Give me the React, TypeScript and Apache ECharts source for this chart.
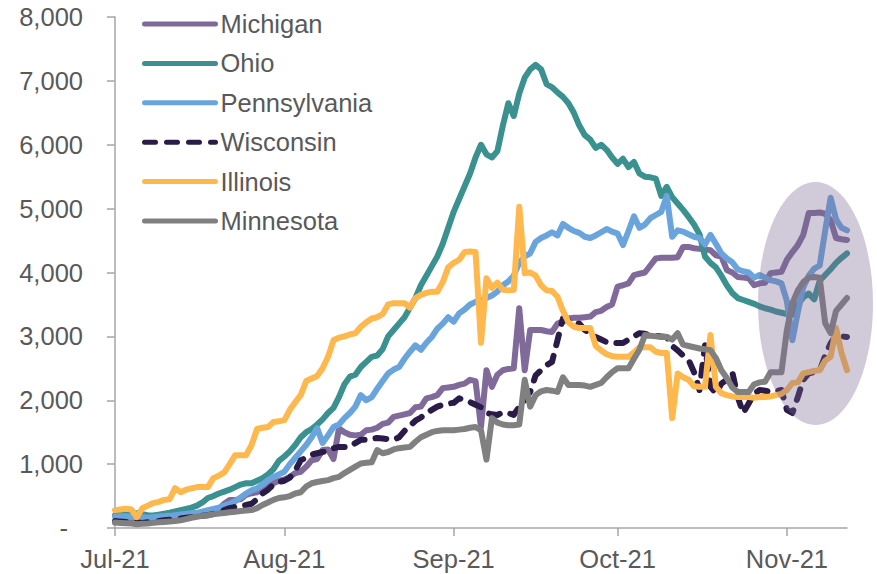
import React, { useEffect, useRef } from "react";
import * as echarts from "echarts";

// ---- Data (daily, 1 Jul 2021 – 12 Nov 2021) ----
const startDate = new Date(2021, 6, 1);
const dayCount = 135;
const dates: string[] = [];
for (let i = 0; i < dayCount; i++) {
  const d = new Date(startDate.getFullYear(), startDate.getMonth(), startDate.getDate() + i);
  dates.push(`${d.getFullYear()}-${String(d.getMonth() + 1).padStart(2, "0")}-${String(d.getDate()).padStart(2, "0")}`);
}
const monthNames = ["Jan", "Feb", "Mar", "Apr", "May", "Jun", "Jul", "Aug", "Sep", "Oct", "Nov", "Dec"];

const seriesNames = ["Michigan", "Ohio", "Pennsylvania", "Wisconsin", "Illinois", "Minnesota"];

const michigan = [
  100, 100, 95, 90, 85, 90, 100, 110, 120, 130, 140, 150, 160, 170, 180, 190, 210, 230, 260, 300,
  380, 440, 440, 450, 520, 545, 560, 620, 640, 700, 740, 760, 800, 860, 880, 960, 1060, 1080, 1220, 1230,
  1080, 1560, 1500, 1460, 1450, 1460, 1530, 1540, 1570, 1630, 1650, 1740, 1760, 1780, 1800, 1890, 1900, 2030, 2050, 2080,
  2190, 2200, 2210, 2240, 2260, 2320, 2300, 1580, 2470, 2210, 2400, 2470, 2490, 2500, 3440, 2470, 3100, 3100, 3100, 3080,
  3070, 3200, 3230, 3280, 3290, 3290, 3300, 3310, 3380, 3400, 3460, 3500, 3780, 3800, 3830, 3960, 3980, 4000, 4110, 4220,
  4230, 4230, 4230, 4240, 4400, 4400, 4380, 4370, 4360, 4350, 4270, 4250, 4040, 4000, 3930, 3920, 3910, 3800, 3830, 3840,
  3990, 4000, 4010, 4200, 4320, 4430, 4590, 4930, 4930, 4940, 4920, 4820, 4540, 4520, 4510,
];

const ohio = [
  200, 210, 220, 225, 230, 215, 200, 195, 210, 225, 240, 260, 280, 300, 320, 350, 400, 470, 500, 540,
  570, 600, 640, 680, 700, 700, 740, 780, 840, 920, 1050, 1120, 1200, 1300, 1420, 1500, 1550, 1620, 1700, 1800,
  1880, 2050, 2250, 2370, 2400, 2520, 2600, 2680, 2700, 2800, 3000, 3100, 3200, 3300, 3450, 3600, 3800, 3950, 4100, 4250,
  4450, 4700, 4950, 5150, 5350, 5550, 5800, 6000, 5850, 5800, 5900, 6300, 6650, 6450, 6800, 7050, 7180, 7250, 7180, 6950,
  6900, 6820, 6750, 6650, 6500, 6300, 6150, 6080, 5950, 6000, 5920, 5800, 5700, 5780, 5650, 5730, 5550, 5500, 5490, 5470,
  5200, 5340, 5180, 5080, 4980, 4870, 4750, 4600, 4250, 4150, 4080, 3950, 3800, 3680, 3600, 3570, 3540, 3510, 3470, 3440,
  3420, 3390, 3370, 3350, 3340, 3500, 3610, 3670, 3580, 3870, 3960, 4050, 4150, 4230, 4300,
];

const pennsylvania = [
  180, 185, 185, 180, 175, 170, 160, 170, 180, 185, 190, 200, 210, 220, 230, 240, 255, 280, 300, 320,
  350, 380, 420, 480, 540, 590, 620, 680, 750, 800, 840, 880, 1000, 1100, 1200, 1300, 1420, 1565, 1330, 1450,
  1580, 1620, 1720, 1800, 1900, 2080, 2000, 2050, 2180, 2300, 2420, 2480, 2520, 2650, 2760, 2860, 2790, 2900, 2990, 3120,
  3200, 3300, 3230, 3360, 3420, 3500, 3540, 3570, 3600, 3640, 3700, 3800, 3860, 3950, 4150, 4250, 4300, 4480, 4540, 4580,
  4630, 4580, 4760, 4700, 4650, 4620, 4560, 4540, 4580, 4630, 4680, 4640, 4610, 4430, 4650, 4880, 4700, 4750, 4850, 4900,
  4950, 5200, 4560, 4660, 4640, 4600, 4560, 4540, 4440, 4590, 4450, 4300, 4220, 4160, 4050, 4020, 4000, 3920, 3960, 3920,
  3880, 3860, 3830, 3550, 2940, 3380, 3770, 3950, 4060, 4110, 4650, 5170, 4830, 4700, 4660,
];

const wisconsin = [
  110, 100, 95, 90, 85, 80, 90, 100, 110, 120, 130, 140, 150, 160, 170, 180, 190, 200, 220, 250,
  280, 310, 330, 350, 360, 380, 450, 540, 600, 680, 720, 740, 790, 900, 1060, 1100, 1150, 1170, 1190, 1200,
  1250, 1270, 1270, 1270, 1330, 1380, 1380, 1400, 1410, 1400, 1390, 1380, 1420, 1520, 1600, 1680, 1730, 1800, 1850, 1900,
  1930, 1950, 1960, 2030, 2000, 1970, 1930, 1890, 1800, 1780, 1770, 1810, 1800, 1770, 1900, 2000, 2130, 2390, 2470, 2550,
  2600, 2940, 3280, 3250, 3220, 3200, 3100, 3050, 2990, 2950, 2910, 2900, 2895, 2895, 2950, 3000, 3050, 3040, 3020, 3010,
  3000, 2990, 2850, 2780, 2700, 2630, 2440, 2160, 2860, 2210, 2110, 2260, 2320, 2440, 2050, 1800, 1950, 2100, 2160, 2150,
  2130, 2140, 2160, 1850, 1800, 2050, 2320, 2420, 2440, 2460, 2700, 2890, 3020, 3000, 2990,
];

const illinois = [
  280, 290, 300, 290, 170, 310, 350, 390, 410, 440, 450, 625, 560, 600, 620, 640, 640, 640, 780, 820,
  870, 1000, 1140, 1140, 1140, 1300, 1550, 1570, 1580, 1660, 1670, 1690, 1850, 1970, 2080, 2300, 2340, 2380, 2500, 2680,
  2940, 2980, 3000, 3030, 3050, 3150, 3220, 3280, 3300, 3350, 3500, 3520, 3520, 3520, 3450, 3600, 3650, 3680, 3700, 3700,
  3850, 4080, 4150, 4200, 4320, 4330, 4320, 2900, 3910, 3760, 3840, 3730, 3720, 3730, 5030, 3990, 4000, 3950, 3800, 3720,
  3710, 3620, 3400, 3220, 3150, 3130, 3130, 3130, 2850, 2780, 2720, 2690, 2680, 2680, 2680, 2750, 2830, 2830, 2830, 2760,
  2740, 2740, 1720, 2420, 2360, 2320, 2220, 2210, 2210, 3020, 2210, 2110, 2080, 2060, 2050, 2050, 2050, 2040, 2050, 2050,
  2060, 2080, 2100, 2160, 2270, 2280, 2420, 2440, 2460, 2470, 2620, 2680, 3130, 2740, 2470,
];

const minnesota = [
  85, 80, 75, 70, 60, 65, 70, 80, 90, 95, 100, 110, 120, 140, 160, 175, 190, 200, 215, 225,
  235, 245, 255, 265, 275, 280, 310, 360, 400, 440, 470, 480, 500, 540, 560, 650, 700, 720, 735, 750,
  780, 800, 860, 910, 960, 1010, 1020, 1030, 1220, 1170, 1190, 1230, 1250, 1260, 1270, 1350, 1420, 1460, 1500, 1520,
  1530, 1530, 1530, 1540, 1550, 1570, 1580, 1530, 1070, 1720, 1650, 1620, 1610, 1610, 1620, 2320, 1900, 2080, 2140, 2160,
  2150, 2130, 2360, 2240, 2240, 2240, 2230, 2210, 2240, 2270, 2360, 2440, 2500, 2500, 2500, 2650, 2790, 3020, 3010, 3000,
  2990, 2990, 2950, 3050, 2870, 2850, 2830, 2810, 2800, 2785, 2660, 2470, 2350, 2200, 2130, 2130, 2130, 2250, 2280, 2290,
  2440, 2440, 2440, 3100, 3520, 3720, 3850, 3920, 3930, 3920, 3210, 3050, 3400, 3500, 3600,
];

const seriesValues = [michigan, ohio, pennsylvania, wisconsin, illinois, minnesota];
const seriesColors = ["#7F6A9A", "#3A9190", "#6AA4DC", "#2A1B48", "#FFB84D", "#808080"];

const yMin = 0;
const yMax = 8000;
const yInterval = 1000;

const FONT = "'Liberation Sans', Arial, sans-serif";
const TEXT_COLOR = "#595959";
const AXIS_COLOR = "#A6A6A6";
const LINE_W = 6;
const LEGEND_LINE_W = 5;

function isMonthStart(index: number): boolean {
  return dates[index].endsWith("-01");
}

function monthLabel(value: string): string {
  const [y, m] = value.split("-");
  return `${monthNames[Number(m) - 1]}-${y.slice(2)}`;
}

export default function App() {
  const ref = useRef<HTMLDivElement>(null);

  useEffect(() => {
    if (!ref.current) return;
    const chart = echarts.init(ref.current, undefined, { renderer: "svg" });

    const series = seriesNames.map((name, k) => {
      const lineStyle: any = { color: seriesColors[k], width: LINE_W, cap: "round", join: "round" };
      if (name === "Wisconsin") lineStyle.type = [11, 11];
      return {
        name,
        type: "line",
        data: seriesValues[k],
        symbol: "none",
        lineStyle,
        itemStyle: { color: seriesColors[k] },
      };
    });

    chart.setOption({
      animation: false,
      textStyle: { fontFamily: FONT },
      grid: { left: 115, right: 30, top: 17, bottom: 46, containLabel: false },
      legend: {
        orient: "vertical",
        left: 142,
        top: 11,
        padding: 0,
        itemWidth: 71,
        itemHeight: 14,
        itemGap: 13.4,
        data: seriesNames,
        itemStyle: { opacity: 0 },
        lineStyle: { width: LEGEND_LINE_W, cap: "round" },
        textStyle: { fontSize: 25.5, color: TEXT_COLOR, fontFamily: FONT, lineHeight: 26 },
      },
      xAxis: {
        type: "category",
        data: dates,
        boundaryGap: false,
        axisLine: { lineStyle: { color: AXIS_COLOR, width: 1.5 } },
        axisTick: {
          show: true,
          length: 8,
          interval: (index: number) => isMonthStart(index),
          lineStyle: { color: AXIS_COLOR, width: 1.5 },
        },
        axisLabel: {
          interval: (index: number) => isMonthStart(index),
          formatter: (value: string) => monthLabel(value),
          fontSize: 25.5,
          color: TEXT_COLOR,
          fontFamily: FONT,
          margin: 18,
        },
        splitLine: { show: false },
      },
      yAxis: {
        type: "value",
        min: yMin,
        max: yMax,
        interval: yInterval,
        axisLine: { show: true, lineStyle: { color: AXIS_COLOR, width: 1.5 } },
        axisTick: { show: true, length: 8, lineStyle: { color: AXIS_COLOR, width: 1.5 } },
        splitLine: { show: false },
        axisLabel: {
          fontSize: 25.5,
          color: TEXT_COLOR,
          fontFamily: FONT,
          margin: 32,
          formatter: (v: number) => (v === 0 ? "{z|-}" : v.toLocaleString("en-US")),
          rich: {
            z: { fontSize: 25.5, color: TEXT_COLOR, fontFamily: FONT, padding: [0, 15, 0, 0] },
          },
        },
      },
      graphic: [
        {
          type: "ellipse",
          z: 100,
          silent: true,
          shape: { cx: 815.5, cy: 303.5, rx: 57.5, ry: 121.5 },
          style: { fill: "rgba(121,104,146,0.35)" },
        },
      ],
      series,
    });

    return () => chart.dispose();
  }, []);

  return (
    <div
      ref={ref}
      style={{ position: "absolute", left: 0, top: 0, width: 877, height: 574, background: "#fff" }}
    />
  );
}
